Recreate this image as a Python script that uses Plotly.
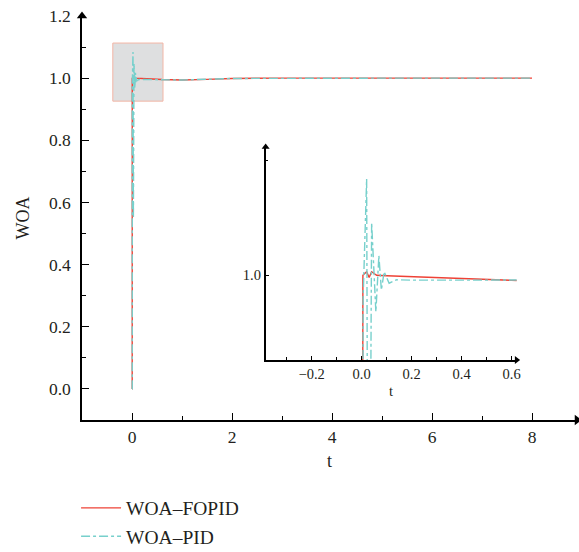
import plotly.graph_objects as go

# Step response of the two controllers
t_fopid = [0, 0.004, 0.005, 0.02, 0.03, 0.04, 0.06, 0.1, 0.3, 0.6, 1.0, 1.5, 2.0, 3.0, 4.0, 5.0, 6.0, 7.0, 8.0]
y_fopid = [0, 0, 1.0, 1.003, 0.998, 1.003, 1.0, 0.9995, 0.998, 0.9955, 0.994, 0.996, 0.999, 1.0, 1.0, 1.0, 1.0, 1.0, 1.0]

t_pid = [0, 0.005, 0.006, 0.02, 0.028, 0.04, 0.057, 0.069, 0.079, 0.09, 0.11, 0.14, 0.2, 0.4, 0.6, 1.0, 2.0, 3.0, 4.0, 5.0, 6.0, 7.0, 8.0]
y_pid = [0, 0, 0.98, 1.084, 0.55, 1.046, 0.968, 1.017, 0.987, 1.003, 0.993, 0.996, 0.9957, 0.9957, 0.9955, 0.994, 0.999, 1.0, 1.0, 1.0, 1.0, 1.0, 1.0]

main_xticks = [0, 2, 4, 6, 8]
main_yticks = [0.0, 0.2, 0.4, 0.6, 0.8, 1.0, 1.2]
inset_xticks = [-0.2, 0.0, 0.2, 0.4, 0.6]
inset_yticks = [1.0]

# zoom window shown in the inset
zoom_x = [-0.384, 0.62]
zoom_y = [0.926, 1.112]

RED = "#ee4236"
CYAN = "#77d0cc"
FONT = "Liberation Serif"
INK = "#231f20"

fig = go.Figure()

fig.add_trace(go.Scatter(x=t_fopid, y=y_fopid, mode="lines", name="WOA\u2013FOPID",
                         line=dict(color=RED, width=1.4)))
fig.add_trace(go.Scatter(x=t_pid, y=y_pid, mode="lines", name="WOA\u2013PID",
                         line=dict(color=CYAN, width=1.4, dash="dashdot")))

fig.add_trace(go.Scatter(x=t_fopid, y=y_fopid, mode="lines", showlegend=False,
                         line=dict(color=RED, width=1.4), xaxis="x2", yaxis="y2"))
fig.add_trace(go.Scatter(x=t_pid, y=y_pid, mode="lines", showlegend=False,
                         line=dict(color=CYAN, width=1.4, dash="dashdot"), xaxis="x2", yaxis="y2"))

# arrow heads at the ends of the axes
fig.add_trace(go.Scatter(x=[-1], y=[1.2], mode="markers", showlegend=False, cliponaxis=False,
                         marker=dict(symbol="triangle-up", size=9, color="black"), hoverinfo="skip"))
fig.add_trace(go.Scatter(x=[8.9], y=[-0.1], mode="markers", showlegend=False, cliponaxis=False,
                         marker=dict(symbol="triangle-right", size=9, color="black"), hoverinfo="skip"))
fig.add_trace(go.Scatter(x=[zoom_x[0]], y=[zoom_y[1]], mode="markers", showlegend=False, cliponaxis=False,
                         marker=dict(symbol="triangle-up", size=7, color="black"), hoverinfo="skip",
                         xaxis="x2", yaxis="y2"))
fig.add_trace(go.Scatter(x=[zoom_x[1]], y=[zoom_y[0]], mode="markers", showlegend=False, cliponaxis=False,
                         marker=dict(symbol="triangle-right", size=7, color="black"), hoverinfo="skip",
                         xaxis="x2", yaxis="y2"))

fig.add_shape(type="rect", x0=zoom_x[0], x1=zoom_x[1], y0=zoom_y[0], y1=1.113,
              xref="x", yref="y", fillcolor="#dedfe0", line=dict(color="#f3b6a6", width=1),
              layer="below")

axis_common = dict(showline=True, linecolor="black", linewidth=1.5, showgrid=False,
                   zeroline=False, ticks="inside", tickcolor="black", tickwidth=1.2,
                   automargin=False)
main_font = dict(family=FONT, size=17.5, color=INK)
inset_font = dict(family=FONT, size=14.5, color=INK)

fig.update_layout(
    width=579, height=552,
    margin=dict(l=82, r=2, t=16, b=132, autoexpand=False),
    plot_bgcolor="white", paper_bgcolor="white",
    font=dict(family=FONT, color=INK, size=17),
    xaxis=dict(range=[-1, 8.9], tickvals=main_xticks, ticklen=7, tickfont=main_font,
               minor=dict(tickvals=[1, 3, 5, 7], ticklen=4, ticks="inside", tickcolor="black"),
               title=dict(text="t", font=dict(family=FONT, size=18, color=INK), standoff=9),
               **axis_common),
    yaxis=dict(range=[-0.1, 1.2], tickvals=main_yticks, tickformat=".1f", ticklen=7,
               tickfont=main_font, ticklabelstandoff=6,
               minor=dict(tickvals=[0.1, 0.3, 0.5, 0.7, 0.9, 1.1], ticklen=4, ticks="inside",
                          tickcolor="black"),
               title=dict(text="WOA", font=dict(family=FONT, size=18, color=INK), standoff=15),
               **axis_common),
    xaxis2=dict(domain=[0.371, 0.878], anchor="y2", range=zoom_x, tickvals=inset_xticks,
                tickformat=".1f", ticklen=4, tickfont=inset_font,
                minor=dict(tickvals=[-0.3, -0.1, 0.1, 0.3, 0.5], ticklen=3, ticks="inside",
                           tickcolor="black"),
                title=dict(text="t", font=inset_font, standoff=5),
                **axis_common),
    yaxis2=dict(domain=[0.1485, 0.676], anchor="x2", range=zoom_y, tickvals=inset_yticks,
                tickformat=".1f", ticklen=4, tickfont=inset_font,
                minor=dict(tickvals=[1.1], ticklen=3, ticks="inside", tickcolor="black"),
                **axis_common),
    legend=dict(x=-0.012, y=-0.17, xanchor="left", yanchor="top", bgcolor="rgba(0,0,0,0)",
                font=dict(family=FONT, size=19.5, color=INK), itemwidth=40, tracegroupgap=0),
    showlegend=True,
)

fig.write_html("out.html")
